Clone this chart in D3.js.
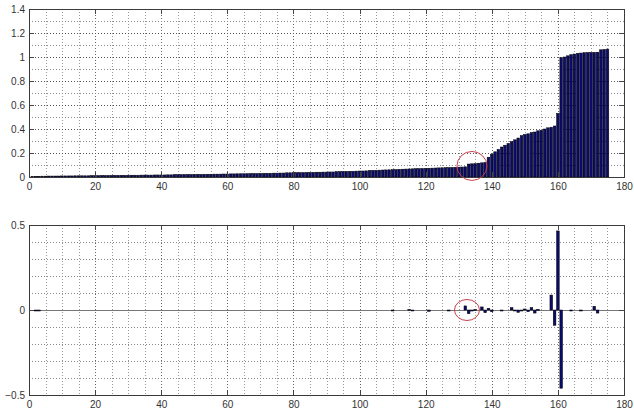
<!DOCTYPE html>
<html>
<head>
<meta charset="utf-8">
<script src="https://cdn.jsdelivr.net/npm/d3@7"></script>
<style>
body { margin: 0; background: #fff; }
text { font-family: "Liberation Sans", Arial, sans-serif; font-size: 10px; fill: #333; }
</style>
</head>
<body>
<svg id="chart" width="634" height="410"></svg>
<script>
// sorted values, index 1..175
var sortedValues = [
    0.004, 0.004, 0.005,
    0.007, 0.007, 0.008, 0.008, 0.008, 0.008, 0.009, 0.009, 0.009, 0.009, 0.01, 0.01, 0.01, 0.01, 0.01,
    0.012, 0.012, 0.012, 0.013, 0.013, 0.013, 0.013, 0.014, 0.014, 0.014, 0.014, 0.015, 0.015, 0.015, 0.015,
    0.016, 0.016, 0.016, 0.016, 0.017, 0.017, 0.017, 0.017, 0.018, 0.018,
    0.02, 0.02, 0.02, 0.021, 0.021, 0.021, 0.022, 0.022, 0.022, 0.023, 0.023, 0.023, 0.024, 0.024, 0.024, 0.025, 0.025,
    0.026, 0.026, 0.027, 0.027, 0.027, 0.028, 0.028, 0.029, 0.029, 0.03, 0.03, 0.031, 0.031, 0.032, 0.032, 0.033, 0.033,
    0.035, 0.035, 0.036, 0.036, 0.037, 0.037, 0.038, 0.038, 0.039, 0.04, 0.04, 0.041, 0.041, 0.042, 0.042,
    0.045, 0.045, 0.046, 0.047, 0.047, 0.048, 0.049, 0.05, 0.05, 0.051,
    0.054, 0.055, 0.056, 0.057, 0.058, 0.059, 0.06, 0.061, 0.062,
    0.064, 0.065, 0.066, 0.067, 0.068, 0.069, 0.07, 0.071, 0.072,
    0.073, 0.074, 0.075, 0.076, 0.077, 0.078, 0.079, 0.08, 0.081, 0.082, 0.083, 0.085,
    0.108, 0.11, 0.112, 0.115, 0.118, 0.122,
    0.165, 0.19, 0.21, 0.23, 0.25, 0.265, 0.28, 0.295, 0.31, 0.325, 0.345, 0.355, 0.36, 0.37, 0.375,
    0.385, 0.39, 0.4, 0.41, 0.415, 0.425, 0.53,
    0.995, 1.0, 1.01, 1.02, 1.025, 1.03, 1.033, 1.036, 1.037, 1.038, 1.039, 1.04, 1.06, 1.063, 1.066
];

// non-zero bars of the lower plot
var diffIndex = [2, 3, 110, 115, 116, 121, 127, 132, 133, 134, 135, 137, 138, 139, 140, 143,
    146, 147, 148, 149, 150, 151, 152, 153, 154, 158, 159, 160, 161, 164, 167, 171, 172];
var diffValues = [-0.004, -0.004, -0.004, 0.003, -0.004, -0.008, -0.004, 0.024, -0.022, -0.006, 0.004, 0.018, -0.016, 0.01, -0.01, -0.004,
    0.014, -0.004, -0.014, -0.006, 0.006, -0.01, 0.014, -0.018, 0.004, 0.088, -0.09, 0.465, -0.46, -0.004, -0.003, 0.022, -0.018];

var xTicks = [0, 20, 40, 60, 80, 100, 120, 140, 160, 180];
var topYTicks = [0, 0.2, 0.4, 0.6, 0.8, 1, 1.2, 1.4];
var bottomYTicks = [-0.5, 0, 0.5];

var svg = d3.select("#chart");
var barFill = "#0b0b6b";

function drawAxes(box, yDomain, yTicks, yMinorStep)
{
    var x = d3.scaleLinear().domain([0, 180]).range([box.left, box.right]);
    var y = d3.scaleLinear().domain(yDomain).range([box.bottom, box.top]);
    var g = svg.append("g");

    // grid, every 5 along x
    for (var v = 5; v < 180; v += 5)
    {
        g.append("line")
            .attr("x1", Math.round(x(v)) + 0.5).attr("x2", Math.round(x(v)) + 0.5)
            .attr("y1", box.top).attr("y2", box.bottom)
            .style("stroke", v % 20 == 0 ? "#666" : "#999")
            .style("stroke-dasharray", "1,2");
    }
    var nMinor = Math.round((yDomain[1] - yDomain[0]) / yMinorStep);
    for (var k = 1; k < nMinor; k++)
    {
        var yv = yDomain[0] + k * yMinorStep;
        var major = yTicks.some(function(t) { return Math.abs(t - yv) < 1e-6; });
        g.append("line")
            .attr("x1", box.left).attr("x2", box.right)
            .attr("y1", Math.round(y(yv)) + 0.5).attr("y2", Math.round(y(yv)) + 0.5)
            .style("stroke", major ? "#555" : "#888")
            .style("stroke-dasharray", "1,2");
    }

    var xAxis = d3.axisBottom(x).tickValues(xTicks).tickSize(0).tickPadding(6).tickFormat(d3.format("d"));
    var yAxis = d3.axisLeft(y).tickValues(yTicks).tickSize(0).tickPadding(4).tickFormat(function(d) { return d3.format("")(d); });

    var xa = g.append("g").attr("transform", "translate(0," + box.bottom + ")").call(xAxis);
    var ya = g.append("g").attr("transform", "translate(" + box.left + ",0)").call(yAxis);
    xa.select(".domain").remove();
    ya.select(".domain").remove();
    g.selectAll(".tick text").style("font-size", "10px").style("fill", "#333");

    return { x: x, y: y, g: g };
}

function drawFrame(box, ctx, yTicks)
{
    var g = svg.append("g");
    xTicks.forEach(function(t)
    {
        var px = Math.round(ctx.x(t)) + 0.5;
        g.append("line").attr("x1", px).attr("x2", px).attr("y1", box.bottom).attr("y2", box.bottom - 5).style("stroke", "#444");
        g.append("line").attr("x1", px).attr("x2", px).attr("y1", box.top).attr("y2", box.top + 5).style("stroke", "#444");
    });
    yTicks.forEach(function(t)
    {
        var py = Math.round(ctx.y(t)) + 0.5;
        g.append("line").attr("x1", box.left).attr("x2", box.left + 5).attr("y1", py).attr("y2", py).style("stroke", "#444");
        g.append("line").attr("x1", box.right).attr("x2", box.right - 5).attr("y1", py).attr("y2", py).style("stroke", "#444");
    });
    g.append("rect")
        .attr("x", box.left + 0.5).attr("y", box.top + 0.5)
        .attr("width", box.right - box.left).attr("height", box.bottom - box.top)
        .style("fill", "none").style("stroke", "#3a3a3a");
}

// Top plot
var topBox = { left: 29, right: 624, top: 9, bottom: 177 };
var topPlot = drawAxes(topBox, [0, 1.4], topYTicks, 0.1);

svg.append("g").selectAll("rect")
    .data(sortedValues)
    .enter().append("rect")
    .attr("x", function(d, i) { return topPlot.x(i + 1 - 0.4); })
    .attr("width", topPlot.x(0.8) - topPlot.x(0))
    .attr("y", function(d) { return topPlot.y(d); })
    .attr("height", function(d) { return topPlot.y(0) - topPlot.y(d); })
    .style("fill", barFill)
    .style("stroke", "#000")
    .style("stroke-width", 0.5);

drawFrame(topBox, topPlot, topYTicks);

svg.append("ellipse")
    .attr("cx", topPlot.x(134)).attr("cy", topPlot.y(0.092))
    .attr("rx", 15).attr("ry", 14.5)
    .style("fill", "none").style("stroke", "#c8404a").style("stroke-width", 1);

// Bottom plot
var botBox = { left: 29, right: 624, top: 225, bottom: 395 };
var botPlot = drawAxes(botBox, [-0.5, 0.5], bottomYTicks, 0.1);

svg.append("line")
    .attr("x1", botBox.left).attr("x2", botBox.right)
    .attr("y1", Math.round(botPlot.y(0)) + 0.5).attr("y2", Math.round(botPlot.y(0)) + 0.5)
    .style("stroke", "#777").style("stroke-width", 1.2);

svg.append("g").selectAll("rect")
    .data(diffValues)
    .enter().append("rect")
    .attr("x", function(d, i) { return botPlot.x(diffIndex[i] - 0.4); })
    .attr("width", botPlot.x(0.8) - botPlot.x(0))
    .attr("y", function(d) { return botPlot.y(Math.max(d, 0)); })
    .attr("height", function(d) { return Math.max(1, Math.abs(botPlot.y(d) - botPlot.y(0))); })
    .style("fill", barFill)
    .style("stroke", "#000")
    .style("stroke-width", 0.5);

drawFrame(botBox, botPlot, bottomYTicks);

svg.append("ellipse")
    .attr("cx", botPlot.x(132.5)).attr("cy", botPlot.y(0))
    .attr("rx", 12.5).attr("ry", 10.5)
    .style("fill", "none").style("stroke", "#c8404a").style("stroke-width", 1);
</script>
</body>
</html>
